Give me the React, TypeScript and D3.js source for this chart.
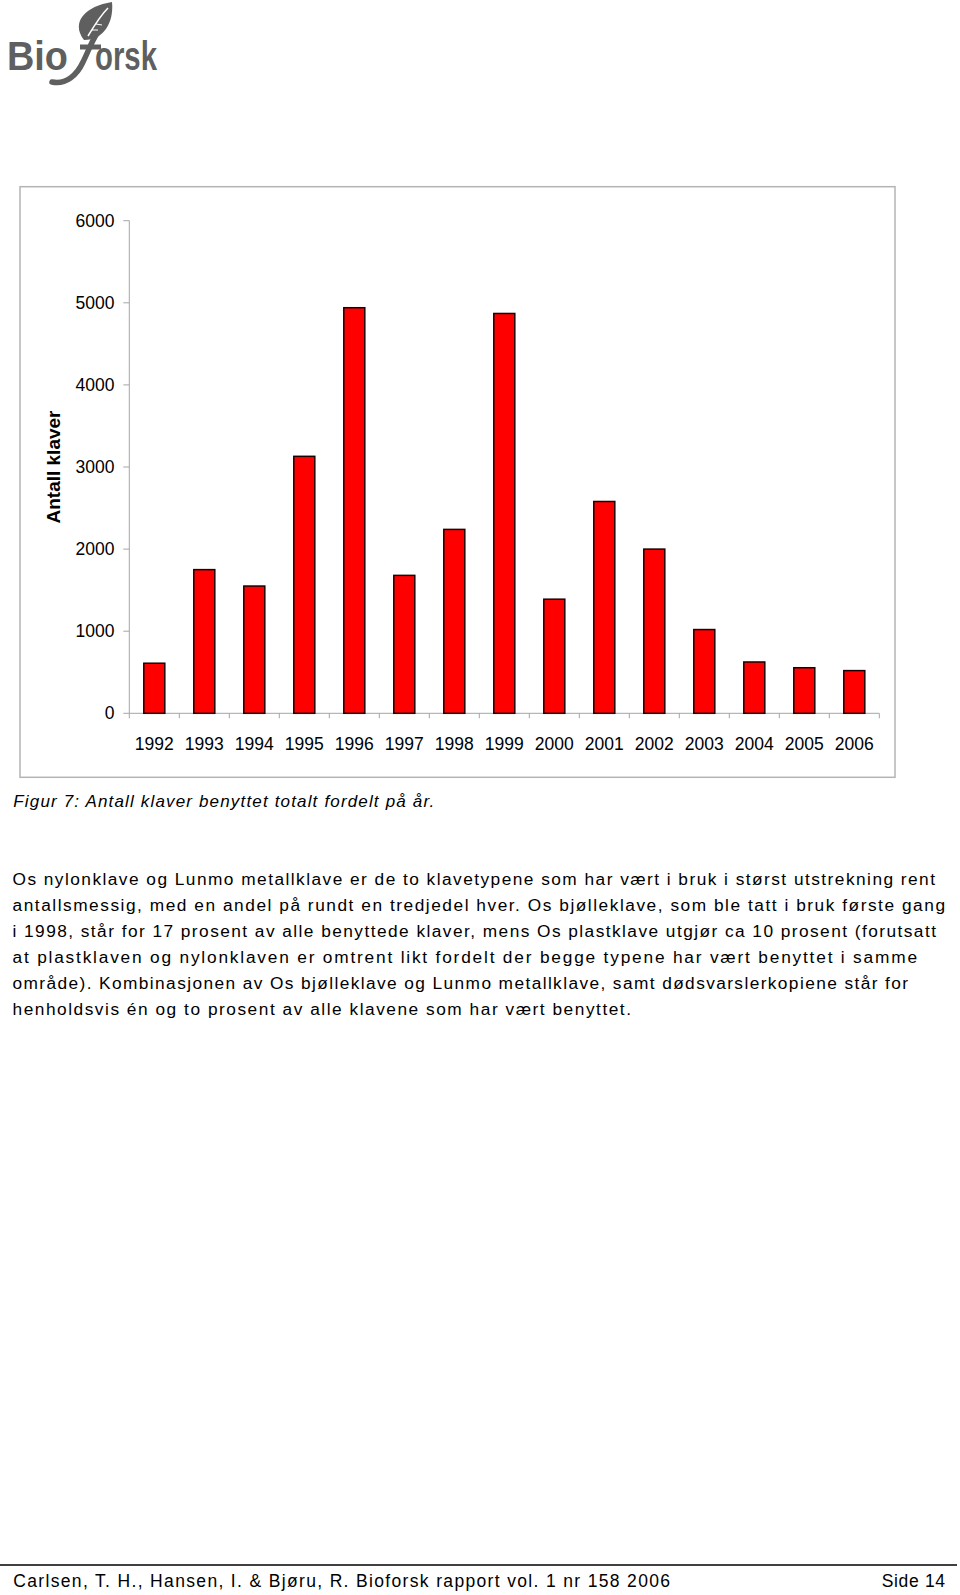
import React from "react";
import * as d3 from "d3";

const years = ["1992","1993","1994","1995","1996","1997","1998","1999","2000","2001","2002","2003","2004","2005","2006"];
const counts = [610, 1750, 1550, 3130, 4940, 1680, 2240, 4870, 1390, 2580, 2000, 1020, 625, 555, 520];
const yTicks = [0, 1000, 2000, 3000, 4000, 5000, 6000];
const yTitle = "Antall klaver";
const caption = "Figur 7: Antall klaver benyttet totalt fordelt på år.";
const paragraph = [
  "Os nylonklave og Lunmo metallklave er de to klavetypene som har vært i bruk i størst utstrekning rent",
  "antallsmessig, med en andel på rundt en tredjedel hver. Os bjølleklave, som ble tatt i bruk første gang",
  "i 1998, står for 17 prosent av alle benyttede klaver, mens Os plastklave utgjør ca 10 prosent (forutsatt",
  "at plastklaven og nylonklaven er omtrent likt fordelt der begge typene har vært benyttet i samme",
  "område). Kombinasjonen av Os bjølleklave og Lunmo metallklave, samt dødsvarslerkopiene står for",
  "henholdsvis én og to prosent av alle klavene som har vært benyttet.",
];
const paragraphEnds = [935, 945, 936, 917, 908, 631];
const footerLeft = "Carlsen, T. H., Hansen, I. & Bjøru, R. Bioforsk rapport vol. 1 nr 158 2006";
const footerRight = "Side 14";

const FONT = "'Liberation Sans', Arial, Helvetica, sans-serif";

export default function App() {
  const x0 = 129.3, x1 = 879.3;
  const yBottom = 713.3, yTop = 220.7;
  const x = d3.scaleBand<string>().domain(years).range([x0, x1]).paddingInner(0.58).paddingOuter(0.29);
  const y = d3.scaleLinear().domain([0, 6000]).range([yBottom, yTop]);
  const step = x.step();
  const axisColor = "#a6a6a6";
  const grey = "#5f5f5f";

  return (
    <svg width={960} height={1595} style={{ position: "absolute", left: 0, top: 0, background: "#fff" }} fontFamily={FONT}>
      <rect x={0} y={0} width={960} height={1595} fill="#fff" />
      {/* Logo */}
      <g fill={grey}>
        <text x={7} y={70} fontSize={40} fontWeight="bold" textLength={61} lengthAdjust="spacingAndGlyphs">Bio</text>
        <path d="M 52 82 C 66 85 77 75 83 62 C 89 50 92 40 98 32" fill="none" stroke={grey} strokeWidth={5.5} strokeLinecap="round" />
        <path d="M 80 47 L 101 47" stroke={grey} strokeWidth={5} />
        <path d="M 84 40 C 70 22 86 6 112 2 C 114 22 104 40 84 40 Z" />
        <path d="M 88 36 C 94 26 100 16 108 8" fill="none" stroke="#fff" strokeWidth={1.5} />
        <path d="M 92 30 L 98 30 M 96 24 L 102 25" fill="none" stroke="#fff" strokeWidth={1} />
        <text x={95} y={70} fontSize={40} fontWeight="bold" textLength={62} lengthAdjust="spacingAndGlyphs">orsk</text>
      </g>

      {/* Chart frame */}
      <rect x={20} y={186.7} width={875} height={590.6} fill="#fff" stroke="#b4b4b4" strokeWidth={1.5} />

      {/* Y axis */}
      <line x1={x0} x2={x0} y1={yTop} y2={yBottom} stroke={axisColor} strokeWidth={1} />
      {yTicks.map((t) => (
        <g key={t}>
          <line x1={x0 - 6} x2={x0} y1={y(t)} y2={y(t)} stroke={axisColor} strokeWidth={1} />
          <text x={114.5} y={y(t) + 6} fontSize={17.5} textAnchor="end" fill="#000">{t}</text>
        </g>
      ))}
      <text transform={`translate(60,${(yTop + yBottom) / 2}) rotate(-90)`} fontSize={19} fontWeight="bold" textAnchor="middle" fill="#000">{yTitle}</text>

      {/* X axis */}
      <line x1={x0} x2={x1} y1={yBottom} y2={yBottom} stroke={axisColor} strokeWidth={1} />
      {years.map((yr, i) => (
        <line key={"t" + yr} x1={x0 + i * step} x2={x0 + i * step} y1={yBottom} y2={yBottom + 5} stroke={axisColor} strokeWidth={1} />
      ))}
      <line x1={x1} x2={x1} y1={yBottom} y2={yBottom + 5} stroke={axisColor} strokeWidth={1} />
      {years.map((yr) => (
        <text key={"l" + yr} x={(x(yr) as number) + x.bandwidth() / 2} y={750} fontSize={17.5} textAnchor="middle" fill="#000">{yr}</text>
      ))}

      {/* Bars */}
      {years.map((yr, i) => (
        <rect key={"b" + yr} x={x(yr) as number} y={y(counts[i])} width={x.bandwidth()} height={yBottom - y(counts[i])} fill="#ff0000" stroke="#1a0000" strokeWidth={1.5} />
      ))}

      {/* Caption */}
      <text x={13.3} y={806.7} fontSize={17} fontStyle="italic" fill="#000" textLength={421} lengthAdjust="spacing">{caption}</text>

      {/* Paragraph */}
      {paragraph.map((line, i) => (
        <text key={"p" + i} x={12.5} y={885 + i * 25.9} fontSize={17.3} fill="#000" textLength={paragraphEnds[i] - 12.5} lengthAdjust="spacing">{line}</text>
      ))}

      {/* Footer */}
      <line x1={0} x2={957} y1={1565} y2={1565} stroke="#000" strokeWidth={1.5} />
      <text x={13.3} y={1587.3} fontSize={17.5} fill="#000" textLength={656.7} lengthAdjust="spacing">{footerLeft}</text>
      <text x={881.7} y={1587.3} fontSize={17.5} fill="#000" textLength={63.3} lengthAdjust="spacing">{footerRight}</text>
    </svg>
  );
}
